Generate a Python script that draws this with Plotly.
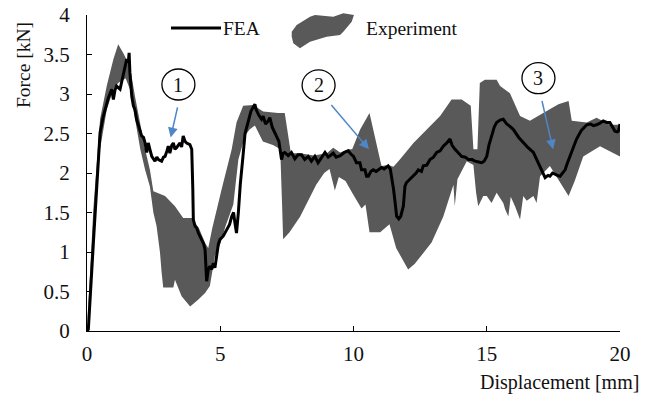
import plotly.graph_objects as go

# ---------------- data ----------------
fea_x = [0, 0.05, 0.24, 0.43, 0.49, 0.6, 0.68, 0.8, 0.93, 0.99, 1.05, 1.11, 1.24, 1.36, 1.45, 1.49, 1.55, 1.58,
         1.61, 1.68, 1.74, 1.80, 1.86, 1.93, 2.05, 2.12, 2.18, 2.24, 2.30, 2.36, 2.43, 2.55, 2.62, 2.68, 2.80,
         2.87, 2.93, 3.0, 3.05, 3.11, 3.18, 3.24, 3.30, 3.36, 3.43, 3.49, 3.55, 3.61, 3.68, 3.74, 3.86, 3.93,
         3.97, 3.99, 4.05, 4.12, 4.18, 4.30, 4.38, 4.43, 4.47, 4.49, 4.55, 4.61, 4.68, 4.74, 4.80, 4.86, 4.93,
         4.99, 5.11, 5.24, 5.35, 5.43, 5.50, 5.55, 5.61, 5.68, 5.75, 5.85, 5.93, 6.05, 6.15, 6.30, 6.35, 6.45,
         6.55, 6.61, 6.70, 6.80, 6.86, 6.95, 7.05, 7.11, 7.2, 7.3, 7.36, 7.42, 7.55, 7.67, 7.80, 7.92, 8.05,
         8.17, 8.30, 8.42, 8.55, 8.67, 8.80, 8.93, 9.05, 9.24, 9.35, 9.50, 9.65, 9.80, 9.90, 10.0, 10.11, 10.24,
         10.30, 10.43, 10.49, 10.56, 10.65, 10.74, 10.85, 11.05, 11.15, 11.3, 11.38, 11.43, 11.5, 11.55, 11.62,
         11.70, 11.77, 11.87, 11.93, 11.99, 12.12, 12.25, 12.35, 12.43, 12.55, 12.62, 12.75, 12.87, 13.0, 13.12,
         13.25, 13.37, 13.5, 13.62, 13.7, 13.81, 13.95, 14.06, 14.2, 14.31, 14.45, 14.56, 14.7, 14.81, 14.9,
         15.0, 15.08, 15.18, 15.28, 15.37, 15.5, 15.62, 15.75, 15.87, 16.0, 16.2, 16.37, 16.55, 16.75, 16.87,
         17.0, 17.1, 17.19, 17.3, 17.37, 17.47, 17.56, 17.65, 17.75, 17.85, 17.94, 18.02, 18.12, 18.25, 18.37,
         18.55, 18.75, 18.9, 19.0, 19.12, 19.25, 19.37, 19.5, 19.62, 19.72, 19.81, 19.9, 19.94, 20.0]
fea_y = [0, 0.02, 1.12, 2.17, 2.51, 2.7, 2.8, 2.95, 3.06, 2.93, 3.05, 3.10, 3.06, 3.25, 3.35, 3.44, 3.40, 3.52,
         3.27, 2.97, 2.85, 2.80, 2.68, 2.59, 2.47, 2.45, 2.38, 2.26, 2.38, 2.30, 2.21, 2.15, 2.20, 2.17, 2.15,
         2.20, 2.21, 2.28, 2.34, 2.25, 2.35, 2.38, 2.30, 2.32, 2.36, 2.38, 2.33, 2.47, 2.40, 2.38, 2.36, 2.30,
         1.8, 1.41, 1.33, 1.30, 1.24, 1.16, 1.10, 1.03, 0.75, 0.63, 0.78, 0.82, 0.78, 0.86, 0.80, 0.95, 1.10,
         1.16, 1.20, 1.28, 1.35, 1.45, 1.50, 1.37, 1.24, 1.5, 1.85, 2.2, 2.5, 2.65, 2.78, 2.87, 2.80, 2.73,
         2.68, 2.72, 2.62, 2.66, 2.70, 2.58, 2.50, 2.47, 2.4, 2.17, 2.25, 2.26, 2.22, 2.26, 2.18, 2.23, 2.23,
         2.17, 2.21, 2.15, 2.21, 2.13, 2.20, 2.26, 2.20, 2.25, 2.20, 2.22, 2.26, 2.28, 2.24, 2.21, 2.13, 2.13,
         2.04, 2.04, 1.96, 1.96, 2.02, 2.04, 2.02, 2.07, 2.05, 2.09, 2.05, 1.96, 1.8, 1.66, 1.45,
         1.42, 1.45, 1.58, 1.83, 1.88, 1.92, 1.96, 2.0, 2.04, 2.02, 2.09, 2.1, 2.17, 2.2, 2.26,
         2.28, 2.34, 2.38, 2.43, 2.35, 2.30, 2.25, 2.21, 2.2, 2.17, 2.17, 2.15, 2.14, 2.13, 2.15,
         2.21, 2.35, 2.47, 2.58, 2.64, 2.67, 2.68, 2.62, 2.59, 2.55, 2.45, 2.38, 2.32, 2.26, 2.17,
         2.09, 2.0, 1.94, 1.97, 1.96, 2.0, 1.98, 1.97, 1.96, 2.0, 2.04, 2.12, 2.21, 2.33, 2.43,
         2.54, 2.61, 2.62, 2.60, 2.61, 2.63, 2.66, 2.64, 2.64, 2.58, 2.53, 2.52, 2.53, 2.62]

exp_upper_x = [0, 0.24, 0.49, 0.74, 0.99, 1.17, 1.36, 1.61, 1.8, 2.0, 2.18, 2.36, 2.49, 2.93, 3.3, 3.61, 3.93,
               4.2, 4.45, 4.55, 4.7, 5.05, 5.43, 5.61, 5.86, 6.24, 6.61, 7.17, 7.42, 7.55, 7.65, 8.0, 8.5, 9.0,
               9.24, 9.5, 9.8, 9.95, 10.25, 10.6, 10.78, 10.95, 11.05, 11.3, 11.5, 11.74, 12.25, 12.75, 13.25,
               13.68, 14.06, 14.4, 14.5, 14.65, 14.74, 14.93, 15.37, 15.5, 15.87, 16.25, 16.62, 17.12, 17.69,
               18.07, 18.19, 18.75, 19.12, 19.62, 20.0]
exp_upper_y = [0, 1.55, 2.68, 3.1, 3.44, 3.63, 3.52, 3.35, 2.97, 2.59, 2.3, 2.04, 1.77, 1.71, 1.58, 1.43, 1.43,
               1.3, 1.1, 1.05, 1.3, 1.79, 2.3, 2.64, 2.85, 2.86, 2.78, 2.76, 2.76, 2.47, 2.25, 2.25, 2.22, 2.25,
               2.32, 2.26, 2.3, 2.3, 2.55, 2.76, 2.5, 2.25, 2.09, 2.1, 2.08, 2.17, 2.38, 2.55, 2.72,
               2.93, 2.93, 2.85, 2.3, 2.3, 3.14, 3.18, 3.18, 3.1, 3.01, 2.72, 2.66, 2.76, 2.87,
               2.91, 2.66, 2.64, 2.7, 2.61, 2.61]

exp_lower_x = [0, 0.24, 0.49, 0.74, 0.99, 1.17, 1.36, 1.45, 1.61, 1.8, 2.0, 2.18, 2.36, 2.49, 2.61, 2.74, 2.8,
               2.86, 3.24, 3.3, 3.55, 3.87, 4.18, 4.43, 4.61, 4.8, 5.0, 5.2, 5.49, 5.68, 5.93, 6.1, 6.3, 6.6,
               7.0, 7.25, 7.32, 7.36, 7.6, 8.0, 8.3, 8.6, 8.9, 9.1, 9.3, 9.45, 9.7, 9.95, 10.3, 10.45, 10.6,
               11.0, 11.35, 11.6, 12.05, 12.3, 12.93, 13.37, 13.75, 13.8, 13.9, 14.25, 14.5, 14.6, 14.68,
               14.87, 15.0, 15.18, 15.37, 15.62, 15.69, 15.81, 15.9, 16.06, 16.25, 16.37, 16.5, 16.75, 16.87,
               17.0, 17.37, 17.69, 18.07, 18.3, 18.62, 19.25, 20.0]
exp_lower_y = [0, 1.1, 2.3, 2.8, 3.06, 3.14, 3.18, 3.2, 3.06, 2.68, 2.3, 2.04, 1.83, 1.5, 1.33, 0.99, 0.74,
               0.55, 0.55, 0.65, 0.44, 0.31, 0.4, 0.48, 0.57, 0.95, 1.1, 1.33, 1.6, 2.17, 2.47, 2.55, 2.6, 2.4,
               2.35, 2.3, 1.6, 1.16, 1.25, 1.45, 1.65, 1.85, 2.0, 2.05, 1.78, 1.95, 1.9, 1.75, 1.55, 1.6, 1.25,
               1.25, 1.35, 1.05, 0.78, 0.85, 1.12, 1.45, 1.85, 1.58, 1.92, 2.15, 2.1, 1.75, 1.58,
               1.71, 1.71, 1.62, 1.75, 1.62, 1.54, 1.45, 1.7, 1.58, 1.41, 1.71, 1.65, 1.71, 1.62,
               1.96, 2.09, 1.92, 1.71, 1.9, 2.21, 2.34, 2.21]

x_ticks = [0, 5, 10, 15, 20]
y_ticks = [0, 0.5, 1, 1.5, 2, 2.5, 3, 3.5, 4]
y_tick_text = ["0", "0.5", "1", "1.5", "2", "2.5", "3", "3.5", "4"]

markers = ["1", "2", "3"]
marker_x = [3.43, 8.69, 16.94]
marker_y = [3.12, 3.11, 3.20]
arrow_tail_x = [3.41, 9.12, 17.06]
arrow_tail_y = [2.85, 2.88, 2.93]
arrow_head_x = [3.14, 10.58, 17.49]
arrow_head_y = [2.45, 2.30, 2.30]

# ---------------- layout geometry ----------------
W, H = 646, 399
ML, MR, MT, MB = 87, 26, 15, 68
PW, PH = W - ML - MR, H - MT - MB
FONT = "Liberation Serif"
GRAY = "#595959"
BLUE = "#4e86c6"
TXT = "#111111"


def px(x):
    return (x - ML) / PW


def py(y):
    return (H - MB - y) / PH


fig = go.Figure()

fig.add_trace(go.Scatter(
    x=exp_upper_x + exp_lower_x[::-1],
    y=exp_upper_y + exp_lower_y[::-1],
    fill="toself", fillcolor=GRAY, mode="lines", line=dict(width=0, color=GRAY),
    name="Experiment", showlegend=False, hoverinfo="skip"))

fig.add_trace(go.Scatter(
    x=fea_x, y=fea_y, mode="lines", line=dict(color="black", width=3),
    name="FEA", showlegend=False))

annotations = []
shapes = []

for t, mx, my in zip(markers, marker_x, marker_y):
    shapes.append(dict(type="circle", xref="x", yref="y", xsizemode="pixel", ysizemode="pixel",
                       xanchor=mx, yanchor=my, x0=-16.5, x1=16.5, y0=-15.5, y1=15.5,
                       line=dict(color="black", width=1.3), fillcolor="white", layer="above"))
    annotations.append(dict(x=mx, y=my, xref="x", yref="y", text=t, showarrow=False,
                            font=dict(family=FONT, size=20, color=TXT)))

for tx, ty, hx, hy in zip(arrow_tail_x, arrow_tail_y, arrow_head_x, arrow_head_y):
    annotations.append(dict(x=hx, y=hy, ax=tx, ay=ty, xref="x", yref="y", axref="x", ayref="y",
                            text="", showarrow=True, arrowhead=2, arrowsize=1.3, arrowwidth=1.5,
                            arrowcolor=BLUE))

# legend (manual)
shapes.append(dict(type="line", xref="paper", yref="paper", x0=px(171), x1=px(221), y0=py(28), y1=py(28),
                   line=dict(color="black", width=3)))
blob = [(291.7, 31.7), (296.7, 25), (310, 16.7), (315, 15), (333.3, 16.7), (343.3, 13.3), (354, 15),
        (351.7, 21.7), (343.3, 31.7), (340, 35), (326.7, 36.7), (310, 41.7), (300, 48.3), (293.3, 43.3),
        (291.7, 36.7)]
path = "M " + " L ".join(f"{px(a):.4f},{py(b):.4f}" for a, b in blob) + " Z"
shapes.append(dict(type="path", xref="paper", yref="paper", path=path, fillcolor=GRAY,
                   line=dict(width=0)))
annotations.append(dict(x=px(221), y=py(28), xref="paper", yref="paper", text="FEA", showarrow=False,
                        xanchor="left", yanchor="middle", font=dict(family=FONT, size=19.5, color=TXT)))
annotations.append(dict(x=px(364), y=py(28), xref="paper", yref="paper", text="Experiment", showarrow=False,
                        xanchor="left", yanchor="middle", font=dict(family=FONT, size=19.5, color=TXT)))

# axis titles
annotations.append(dict(x=px(641), y=py(382), xref="paper", yref="paper", text="Displacement [mm]",
                        showarrow=False, xanchor="right", yanchor="middle",
                        font=dict(family=FONT, size=20, color=TXT)))
annotations.append(dict(x=px(24), y=py(65), xref="paper", yref="paper", text="Force [kN]",
                        showarrow=False, xanchor="center", yanchor="middle", textangle=-90,
                        font=dict(family=FONT, size=19.5, color=TXT)))

fig.update_layout(
    width=W, height=H, margin=dict(l=ML, r=MR, t=MT, b=MB, autoexpand=False),
    paper_bgcolor="white", plot_bgcolor="white",
    font=dict(family=FONT, size=19, color=TXT),
    showlegend=False, shapes=shapes, annotations=annotations,
    xaxis=dict(range=[0, 20], tickvals=x_ticks, ticks="inside", ticklen=5, tickcolor="black",
               showline=True, linecolor="black", linewidth=1.2, showgrid=False, zeroline=False,
               automargin=False, ticklabelstandoff=4,
               tickfont=dict(family=FONT, size=21, color=TXT), fixedrange=True),
    yaxis=dict(range=[0, 4], tickvals=y_ticks, ticktext=y_tick_text, ticks="inside", ticklen=5,
               tickcolor="black", showline=True, linecolor="black", linewidth=1.2, showgrid=False,
               zeroline=False, automargin=False, tickfont=dict(family=FONT, size=21, color=TXT),
               fixedrange=True, ticklabelstandoff=12),
)

fig.write_html("out.html", config={"displayModeBar": False},
               post_script="document.body.style.margin='0';document.body.style.overflow='hidden';")
